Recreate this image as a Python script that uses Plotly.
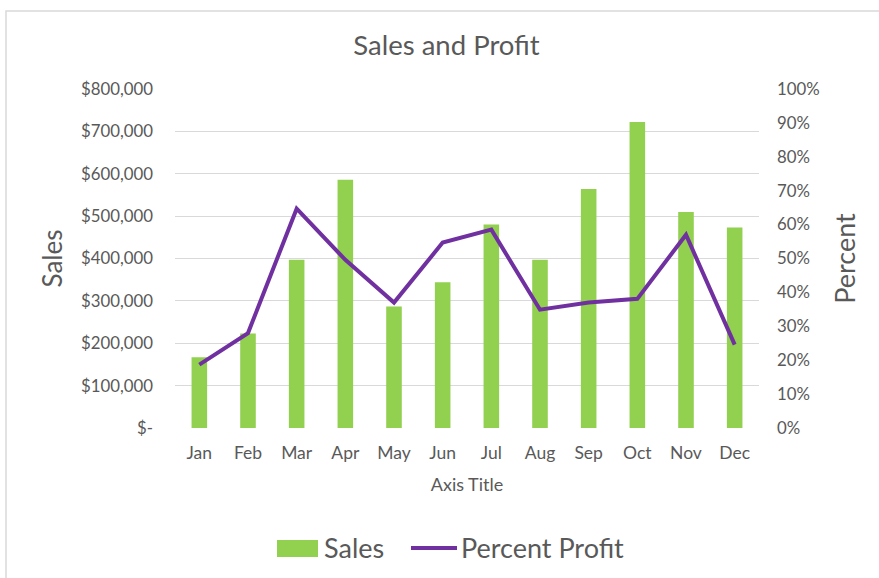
import plotly.graph_objects as go

# Monthly sales and profit margin
months = ["Jan", "Feb", "Mar", "Apr", "May", "Jun",
          "Jul", "Aug", "Sep", "Oct", "Nov", "Dec"]
sales = [167000, 223000, 397000, 586000, 287000, 344000,
         480000, 397000, 564000, 722000, 510000, 473000]
percent_profit = [0.187, 0.280, 0.647, 0.496, 0.370, 0.547,
                  0.585, 0.349, 0.370, 0.381, 0.570, 0.246]

sales_ticks = [0, 100000, 200000, 300000, 400000, 500000, 600000, 700000, 800000]
sales_tick_text = ["$-"] + [f"${v:,.0f}" for v in sales_ticks[1:]]
pct_ticks = [i / 10 for i in range(11)]

FONT = "Lato"
GREY = "#595959"
GREEN = "#92D050"
PURPLE = "#7030A0"

W, H = 879, 578
ML, MR, MT, MB = 175, 120, 89, 150
PW, PH = W - ML - MR, H - MT - MB


def px_x(px):
    """Pixel column -> paper x."""
    return (px - ML) / PW


def px_y(py):
    """Pixel row -> paper y."""
    return (H - MB - py) / PH


fig = go.Figure()
fig.add_trace(go.Bar(
    x=months, y=sales, name="Sales",
    marker=dict(color=GREEN, line=dict(width=0)),
    yaxis="y", showlegend=False,
))
fig.add_trace(go.Scatter(
    x=months, y=percent_profit, name="Percent Profit",
    mode="lines", line=dict(color=PURPLE, width=4),
    yaxis="y2", showlegend=False,
))

# Legend row below the axis title: wide swatch for the bars, stroke for the line
legend_y = 547
shapes = [
    dict(type="rect", xref="paper", yref="paper",
         x0=px_x(277), x1=px_x(318), y0=px_y(557), y1=px_y(540),
         fillcolor=GREEN, line=dict(width=0)),
    dict(type="line", xref="paper", yref="paper",
         x0=px_x(411), x1=px_x(457), y0=px_y(548), y1=px_y(548),
         line=dict(color=PURPLE, width=4)),
    # chart border
    dict(type="rect", xref="paper", yref="paper",
         x0=px_x(6), x1=px_x(W + 40), y0=px_y(H + 40), y1=px_y(11),
         line=dict(color="#D9D9D9", width=1.5), fillcolor="rgba(0,0,0,0)",
         layer="below"),
]
annotations = [
    dict(text="Sales", xref="paper", yref="paper",
         x=px_x(322), y=px_y(legend_y), xanchor="left", yanchor="middle",
         showarrow=False, font=dict(size=27, color=GREY, family=FONT)),
    dict(text="Percent Profit", xref="paper", yref="paper",
         x=px_x(459), y=px_y(legend_y), xanchor="left", yanchor="middle",
         showarrow=False, font=dict(size=27, color=GREY, family=FONT)),
]

fig.update_layout(
    width=W, height=H,
    margin=dict(l=ML, r=MR, t=MT, b=MB, autoexpand=False),
    paper_bgcolor="white", plot_bgcolor="white",
    font=dict(family=FONT, color=GREY),
    title=dict(text="Sales and Profit", x=0.508, xanchor="center",
               y=1 - 45 / H, yanchor="middle",
               font=dict(size=27.5, color=GREY, family=FONT)),
    bargap=0.68,
    showlegend=False,
    xaxis=dict(
        showgrid=False, showline=False, ticks="",
        tickfont=dict(size=17.5, color=GREY),
        title=dict(text="Axis Title", font=dict(size=18, color=GREY), standoff=16),
        ticklabelstandoff=12,
    ),
    yaxis=dict(
        range=[0, 800000], tickvals=sales_ticks, ticktext=sales_tick_text,
        showgrid=True, gridcolor="#D9D9D9", gridwidth=1,
        zeroline=False, showline=False, ticks="",
        tickfont=dict(size=16.8, color=GREY),
        ticklabelstandoff=21,
        title=dict(text="Sales", font=dict(size=26, color=GREY), standoff=10),
    ),
    yaxis2=dict(
        range=[0, 1], tickvals=pct_ticks, tickformat=".0%",
        overlaying="y", side="right",
        showgrid=False, zeroline=False, showline=False, ticks="",
        tickfont=dict(size=16.8, color=GREY),
        ticklabelstandoff=17,
        title=dict(text="Percent", font=dict(size=27, color=GREY), standoff=17),
    ),
    shapes=shapes,
    annotations=annotations,
)

fig.write_html("out.html")
